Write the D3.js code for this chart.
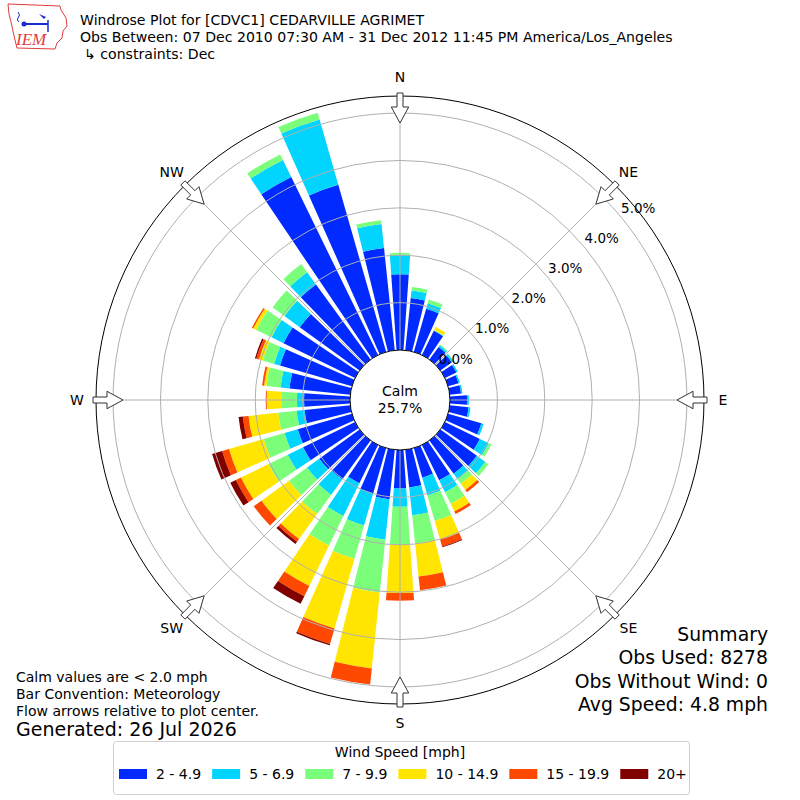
<!DOCTYPE html>
<html><head><meta charset="utf-8">
<script src="https://cdn.jsdelivr.net/npm/d3@7"></script>
<style>
body{margin:0;background:#fff}
svg{display:block}
text{font-family:"DejaVu Sans",sans-serif;fill:#000}
</style>
</head><body>
<svg id="chart" width="800" height="800"></svg>
<script>
// ---------------- data ----------------
const directions = [0,10,20,30,40,50,60,70,80,90,100,110,120,130,140,150,160,170,180,190,200,210,220,230,240,250,260,270,280,290,300,310,320,330,340,350];
const speedBins = ["2 - 4.9","5 - 6.9","7 - 9.9","10 - 14.9","15 - 19.9","20+"];
const binColors = ["#002aff","#00d4ff","#7bff7b","#ffe500","#ff4800","#800000"];
// percent of observations per direction (10 degree bins)
const speed2to4_9   = [1.60,1.11,0.95,0.57,0.33,0.30,0.27,0.23,0.24,0.36,0.40,0.73,0.82,0.95,0.87,0.83,0.65,0.80,0.81,1.05,1.00,0.90,1.02,1.05,1.22,1.19,0.97,0.97,1.29,1.58,1.68,1.56,1.96,4.18,3.67,2.17];
const speed5to6_9   = [0.41,0.16,0.12,0.01,0.04,0.04,0.03,0.03,0.03,0.04,0.04,0.05,0.21,0.22,0.14,0.28,0.39,0.59,0.39,0.86,0.70,0.77,0.40,0.32,0.36,0.29,0.17,0.15,0.19,0.13,0.28,0.40,0.32,0.40,1.43,0.51];
const speed7to9_9   = [0.04,0.07,0.08,0.01,0.02,0.01,0,0,0,0,0,0,0.06,0.08,0.12,0.27,0.56,0.60,0.80,1.12,0.73,0.69,0.50,0.47,0.45,0.46,0.39,0.32,0.30,0.25,0.36,0.31,0.21,0.13,0.15,0.08];
const speed10to14_9 = [0,0,0,0.07,0,0,0,0,0,0,0,0,0,0,0.16,0.18,0.41,0.70,1.02,1.61,1.53,0.95,0.65,0.72,0.65,0.76,0.63,0.32,0.05,0.08,0.07,0,0,0,0,0];
const speed15to19_9 = [0,0,0,0,0,0,0,0,0,0,0,0,0,0,0.06,0.06,0.15,0.29,0.16,0.34,0.34,0.24,0.07,0.20,0.12,0.15,0.12,0.02,0.04,0.06,0.03,0,0,0,0,0];
const speed20plus   = [0,0,0,0,0,0,0,0,0,0,0,0,0,0,0,0,0.02,0,0,0,0.03,0.18,0.06,0,0.13,0.22,0.09,0,0,0.03,0,0,0,0,0,0];
const ringTicks = [0,1,2,3,4,5];
const compassLabels = ["N","NE","E","SE","S","SW","W","NW"];
const compassAngles = [0,45,90,135,180,225,270,315];
const calmPct = "25.7%";
const titleLines = ["Windrose Plot for [CDVC1] CEDARVILLE AGRIMET",
  "Obs Between: 07 Dec 2010 07:30 AM - 31 Dec 2012 11:45 PM America/Los_Angeles",
  "\u21b3 constraints: Dec"];
const noteLines = ["Calm values are < 2.0 mph","Bar Convention: Meteorology","Flow arrows relative to plot center."];
const generatedText = "Generated: 26 Jul 2026";
const summaryLines = ["Summary","Obs Used: 8278","Obs Without Wind: 0","Avg Speed: 4.8 mph"];

// ---------------- layout ----------------
const svg = d3.select("#chart");
const cx = 400, cy = 400;
const r = d3.scaleLinear().domain([0, 5.36]).range([50, 304]);
const rad = d => d * Math.PI / 180;
const barHalf = 4; // degrees
const g = svg.append("g").attr("transform", `translate(${cx},${cy})`);

const seriesArrays = [speed2to4_9, speed5to6_9, speed7to9_9, speed10to14_9, speed15to19_9, speed20plus];
const table = directions.map((d, i) => {
  const row = {dir: d};
  speedBins.forEach((b, k) => row[b] = seriesArrays[k][i]);
  return row;
});
const stacked = d3.stack().keys(speedBins)(table);
const arc = d3.arc();

stacked.forEach((series, k) => {
  g.append("g").selectAll("path")
    .data(series.filter(s => s[1] - s[0] > 0))
    .join("path")
    .attr("d", s => arc({
      innerRadius: r(s[0]), outerRadius: r(s[1]),
      startAngle: rad(s.data.dir - barHalf), endAngle: rad(s.data.dir + barHalf)
    }))
    .attr("fill", binColors[k]);
});

// grid rings (drawn over bars)
g.append("g").selectAll("circle").data(ringTicks.slice(1)).join("circle")
  .attr("r", d => r(d)).attr("fill", "none").attr("stroke", "#b0b0b0").attr("stroke-width", 1);
// radial lines
g.append("g").selectAll("line").data(compassAngles).join("line")
  .attr("x1", d => r(0) * Math.sin(rad(d))).attr("y1", d => -r(0) * Math.cos(rad(d)))
  .attr("x2", d => r(5.36) * Math.sin(rad(d))).attr("y2", d => -r(5.36) * Math.cos(rad(d)))
  .attr("stroke", "#b0b0b0").attr("stroke-width", 1);
// outer circle
g.append("circle").attr("r", r(5.36)).attr("fill", "none").attr("stroke", "#000").attr("stroke-width", 1);
// calm circle
g.append("circle").attr("r", r(0)).attr("fill", "#fff").attr("stroke", "#000").attr("stroke-width", 1);
g.append("text").attr("x", 0).attr("y", -9).attr("text-anchor", "middle").attr("dominant-baseline", "central")
  .style("font-size", "14px").text("Calm");
g.append("text").attr("x", 0).attr("y", 8).attr("text-anchor", "middle").attr("dominant-baseline", "central")
  .style("font-size", "14px").text(calmPct);

// ring labels
const labAng = rad(50.4);
g.append("g").selectAll("text").data(ringTicks).join("text")
  .attr("x", d => r(d) * Math.sin(labAng))
  .attr("y", d => -r(d) * Math.cos(labAng) - 9.5)
  .attr("dominant-baseline", "central")
  .style("font-size", "13.5px")
  .text(d => d.toFixed(1) + "%");

// arrows
function arrowPts(theta) {
  const loc = [[-3,307],[3,307],[3,293],[8.7,293],[0,277],[-8.7,293],[-3,293]];
  const s = Math.sin(rad(theta)), c = Math.cos(rad(theta));
  return loc.map(([t, rr]) => [rr * s + t * c, -rr * c + t * s]);
}
g.append("g").selectAll("polygon").data(compassAngles).join("polygon")
  .attr("points", d => arrowPts(d).map(p => p.join(",")).join(" "))
  .attr("fill", "#fff").attr("stroke", "#333").attr("stroke-width", 1);

// compass labels
g.append("g").selectAll("text").data(compassAngles).join("text")
  .attr("x", d => 323 * Math.sin(rad(d)))
  .attr("y", d => -323 * Math.cos(rad(d)))
  .attr("text-anchor", "middle").attr("dominant-baseline", "central")
  .style("font-size", "14px")
  .text((d, i) => compassLabels[i]);

// title
svg.append("g").selectAll("text").data(titleLines).join("text")
  .attr("x", (d, i) => i === 2 ? 84 : 80).attr("y", (d, i) => 25 + i * 17)
  .style("font-size", "14.1px").text(d => d);

// notes
svg.append("g").selectAll("text").data(noteLines).join("text")
  .attr("x", 16).attr("y", (d, i) => 682 + i * 17)
  .style("font-size", "14px").text(d => d);
svg.append("text").attr("x", 16).attr("y", 736).style("font-size", "19px").text(generatedText);

// summary
svg.append("g").selectAll("text").data(summaryLines).join("text")
  .attr("x", 768).attr("y", (d, i) => 641 + i * 23.3).attr("text-anchor", "end")
  .style("font-size", "18.8px").text(d => d);

// legend
const leg = svg.append("g");
leg.append("rect").attr("x", 113.5).attr("y", 741.5).attr("width", 576).attr("height", 53).attr("rx", 3)
  .attr("fill", "#fff").attr("stroke", "#d0d0d0");
leg.append("text").attr("x", 400).attr("y", 752).attr("text-anchor", "middle").attr("dominant-baseline", "central")
  .style("font-size", "14px").text("Wind Speed [mph]");
let lx = 119;
speedBins.forEach((b, k) => {
  leg.append("rect").attr("x", lx).attr("y", 769).attr("width", 28).attr("height", 10).attr("fill", binColors[k]);
  const t = leg.append("text").attr("x", lx + 37).attr("y", 774).attr("dominant-baseline", "central")
    .style("font-size", "14px").text(b);
  lx = lx + 37 + t.node().getComputedTextLength() + 11;
});

// logo
const logo = svg.append("g");
logo.append("path")
  .attr("d", "M8,4 L60,6 L61,10 L66,18 L67,26 L63,31 L62,38 L57,43 L55,49 L17,48 L15,40 L13,31 L11,22 L9,14 Z")
  .attr("fill", "none").attr("stroke", "#e23b3b").attr("stroke-width", 1);
logo.append("line").attr("x1", 22).attr("y1", 24).attr("x2", 48).attr("y2", 24).attr("stroke", "#1a2bd0").attr("stroke-width", 2);
logo.append("circle").attr("cx", 24).attr("cy", 24).attr("r", 2.5).attr("fill", "#1a2bd0");
logo.append("path").attr("d", "M39,14 L46,17 L44,19 Z").attr("fill", "#1a2bd0");
logo.append("line").attr("x1", 48).attr("y1", 20).attr("x2", 48).attr("y2", 32).attr("stroke", "#1a2bd0").attr("stroke-width", 1.5);
logo.append("path").attr("d", "M18,12 q3,3 0,6 q-2,2 1,4").attr("fill", "none").attr("stroke", "#1a2bd0").attr("stroke-width", 1);
logo.append("text").attr("x", 16).attr("y", 45).style("font-family", "'Liberation Serif',serif")
  .style("font-style", "italic").style("font-size", "17px").style("fill", "#e23b3b").text("IEM");
</script>
</body></html>
